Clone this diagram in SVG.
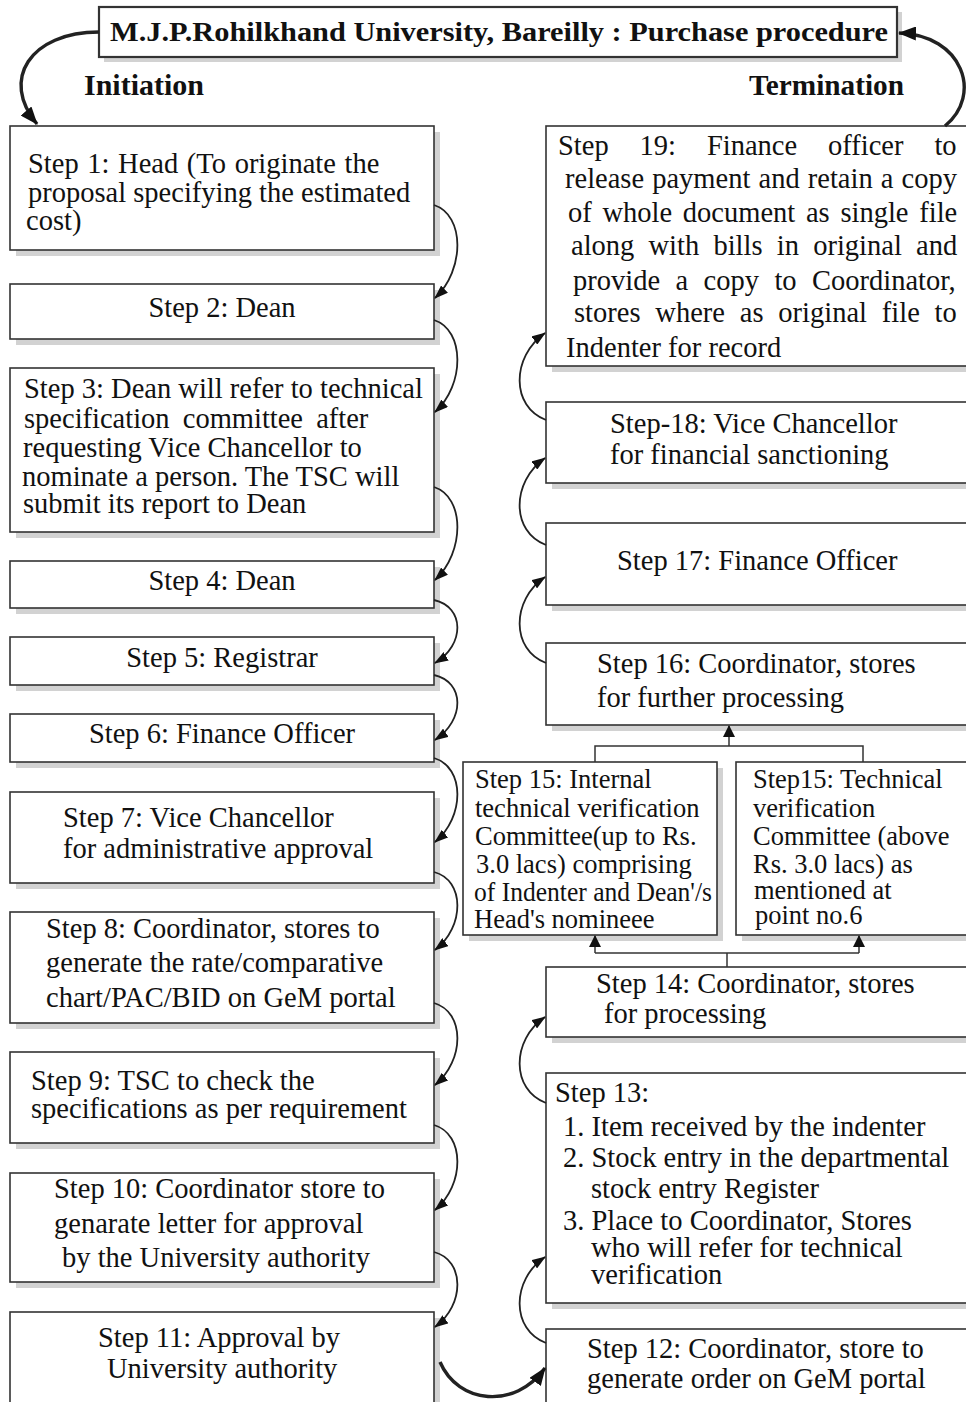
<svg xmlns="http://www.w3.org/2000/svg" width="966" height="1402" viewBox="0 0 966 1402">
<style>
.sh{fill:#d2d2d2}
.box{fill:#fff;stroke:#333;stroke-width:1.6}
.t{font-family:"Liberation Serif","Times New Roman",serif;font-size:28.5px;fill:#111}
.ts{font-size:26.5px}
.c{text-anchor:middle}
.b{font-weight:bold}
.con{fill:none;stroke:#222;stroke-width:1.8}
.thick{stroke-width:3.4}
.ln{fill:none;stroke:#333;stroke-width:1.5}
</style>
<defs>
<marker id="ah" viewBox="0 0 14 10" refX="13" refY="5" markerWidth="14" markerHeight="10" markerUnits="userSpaceOnUse" orient="auto"><path d="M0,0 L14,5 L0,10 z" fill="#111"/></marker>
<marker id="ahb" viewBox="0 0 18 14" refX="17" refY="7" markerWidth="18" markerHeight="14" markerUnits="userSpaceOnUse" orient="auto"><path d="M0,0 L18,7 L0,14 z" fill="#111"/></marker>
<marker id="ahs" viewBox="0 0 12 12" refX="11" refY="6" markerWidth="12" markerHeight="12" markerUnits="userSpaceOnUse" orient="auto"><path d="M0,0 L12,6 L0,12 z" fill="#111"/></marker>
</defs>
<rect width="966" height="1402" fill="#fff"/>

<g id="title">
<rect class="sh" x="104" y="12" width="798" height="50"/>
<rect class="box" x="99" y="7" width="798" height="50" style="stroke-width:2.2"/>
<text class="t b" x="110" y="41" style="font-size:28px" textLength="778" lengthAdjust="spacingAndGlyphs">M.J.P.Rohilkhand University, Bareilly : Purchase procedure</text>
</g>
<g id="initiation"><text class="t b" x="84" y="95" style="font-size:30px" textLength="120" lengthAdjust="spacingAndGlyphs">Initiation</text></g>
<g id="termination"><text class="t b" x="749" y="95" style="font-size:30px" textLength="155" lengthAdjust="spacingAndGlyphs">Termination</text></g>

<g id="step1">
<rect class="sh" x="16" y="132" width="424" height="124"/>
<rect class="box" x="10" y="126" width="424" height="124"/>
<text class="t" x="28" y="173" style="word-spacing:1.5px">Step 1: Head (To originate the</text>
<text class="t" x="28" y="202">proposal specifying the estimated</text>
<text class="t" x="26" y="230">cost)</text>
</g>
<g id="step2">
<rect class="sh" x="16" y="290" width="424" height="55"/>
<rect class="box" x="10" y="284" width="424" height="55"/>
<text class="t c" x="222" y="317">Step 2: Dean</text>
</g>
<g id="step3">
<rect class="sh" x="16" y="374" width="424" height="164"/>
<rect class="box" x="10" y="368" width="424" height="164"/>
<text class="t" x="24" y="398">Step 3: Dean will refer to technical</text>
<text class="t" x="24" y="428" style="word-spacing:6px">specification committee after</text>
<text class="t" x="23" y="457">requesting Vice Chancellor to</text>
<text class="t" x="22" y="486">nominate a person. The TSC will</text>
<text class="t" x="23" y="513">submit its report to Dean</text>
</g>
<g id="step4">
<rect class="sh" x="16" y="567" width="424" height="47"/>
<rect class="box" x="10" y="561" width="424" height="47"/>
<text class="t c" x="222" y="590">Step 4: Dean</text>
</g>
<g id="step5">
<rect class="sh" x="16" y="643" width="424" height="48"/>
<rect class="box" x="10" y="637" width="424" height="48"/>
<text class="t c" x="222" y="667">Step 5: Registrar</text>
</g>
<g id="step6">
<rect class="sh" x="16" y="720" width="424" height="48"/>
<rect class="box" x="10" y="714" width="424" height="48"/>
<text class="t c" x="222" y="743">Step 6: Finance Officer</text>
</g>
<g id="step7">
<rect class="sh" x="16" y="798" width="424" height="91"/>
<rect class="box" x="10" y="792" width="424" height="91"/>
<text class="t" x="63" y="827">Step 7: Vice Chancellor</text>
<text class="t" x="63" y="858">for administrative approval</text>
</g>
<g id="step8">
<rect class="sh" x="16" y="918" width="424" height="111"/>
<rect class="box" x="10" y="912" width="424" height="111"/>
<text class="t" x="46" y="938">Step 8: Coordinator, stores to</text>
<text class="t" x="46" y="972">generate the rate/comparative</text>
<text class="t" x="46" y="1007">chart/PAC/BID on GeM portal</text>
</g>
<g id="step9">
<rect class="sh" x="16" y="1058" width="424" height="91"/>
<rect class="box" x="10" y="1052" width="424" height="91"/>
<text class="t" x="31" y="1090">Step 9: TSC to check the</text>
<text class="t" x="31" y="1118">specifications as per requirement</text>
</g>
<g id="step10">
<rect class="sh" x="16" y="1179" width="424" height="109"/>
<rect class="box" x="10" y="1173" width="424" height="109"/>
<text class="t" x="54" y="1198">Step 10: Coordinator store to</text>
<text class="t" x="54" y="1233">genarate letter for approval</text>
<text class="t" x="62" y="1267">by the University authority</text>
</g>
<g id="step11">
<rect class="sh" x="16" y="1318" width="424" height="100"/>
<rect class="box" x="10" y="1312" width="424" height="100"/>
<text class="t" x="98" y="1347">Step 11: Approval by</text>
<text class="t" x="107" y="1378">University authority</text>
</g>

<g id="step19">
<rect class="sh" x="552" y="132" width="430" height="240"/>
<rect class="box" x="546" y="126" width="430" height="240"/>
<text class="t" x="558" y="155" style="word-spacing:23.8px">Step 19: Finance officer to</text>
<text class="t" x="565" y="188" style="word-spacing:1px">release payment and retain a copy</text>
<text class="t" x="568" y="222" style="word-spacing:3.6px">of whole document as single file</text>
<text class="t" x="571" y="255" style="word-spacing:7.1px">along with bills in original and</text>
<text class="t" x="573" y="290" style="word-spacing:8.3px">provide a copy to Coordinator,</text>
<text class="t" x="574" y="322" style="word-spacing:7.7px">stores where as original file to</text>
<text class="t" x="566" y="357">Indenter for record</text>
</g>
<g id="step18">
<rect class="sh" x="552" y="408" width="430" height="81"/>
<rect class="box" x="546" y="402" width="430" height="81"/>
<text class="t" x="610" y="433">Step-18: Vice Chancellor</text>
<text class="t" x="610" y="464">for financial sanctioning</text>
</g>
<g id="step17">
<rect class="sh" x="552" y="529" width="430" height="82"/>
<rect class="box" x="546" y="523" width="430" height="82"/>
<text class="t" x="617" y="570">Step 17: Finance Officer</text>
</g>
<g id="step16">
<rect class="sh" x="552" y="649" width="430" height="82"/>
<rect class="box" x="546" y="643" width="430" height="82"/>
<text class="t" x="597" y="673">Step 16: Coordinator, stores</text>
<text class="t" x="597" y="707">for further processing</text>
</g>
<g id="step15a">
<rect class="sh" x="469" y="768" width="254" height="173"/>
<rect class="box" x="463" y="762" width="254" height="173"/>
<text class="t ts" x="475" y="788">Step 15: Internal</text>
<text class="t ts" x="475" y="817">technical verification</text>
<text class="t ts" x="475" y="845">Committee(up to Rs.</text>
<text class="t ts" x="476" y="873">3.0 lacs) comprising</text>
<text class="t ts" x="474" y="901" textLength="238" lengthAdjust="spacingAndGlyphs">of Indenter and Dean'/s</text>
<text class="t ts" x="474" y="928">Head's nomineee</text>
</g>
<g id="step15b">
<rect class="sh" x="742" y="768" width="240" height="173"/>
<rect class="box" x="736" y="762" width="240" height="173"/>
<text class="t ts" x="753" y="788">Step15: Technical</text>
<text class="t ts" x="753" y="817">verification</text>
<text class="t ts" x="753" y="845">Committee (above</text>
<text class="t ts" x="753" y="873">Rs. 3.0 lacs) as</text>
<text class="t ts" x="754" y="899">mentioned at</text>
<text class="t ts" x="755" y="924">point no.6</text>
</g>
<g id="step14">
<rect class="sh" x="552" y="973" width="430" height="70"/>
<rect class="box" x="546" y="967" width="430" height="70"/>
<text class="t" x="596" y="993">Step 14: Coordinator, stores</text>
<text class="t" x="604" y="1023">for processing</text>
</g>
<g id="step13">
<rect class="sh" x="552" y="1079" width="430" height="230"/>
<rect class="box" x="546" y="1073" width="430" height="230"/>
<text class="t" x="555" y="1102">Step 13:</text>
<text class="t" x="563" y="1136">1. Item received by the indenter</text>
<text class="t" x="563" y="1167">2. Stock entry in the departmental</text>
<text class="t" x="591" y="1198">stock entry Register</text>
<text class="t" x="563" y="1230">3. Place to Coordinator, Stores</text>
<text class="t" x="591" y="1257">who will refer for technical</text>
<text class="t" x="591" y="1284">verification</text>
</g>
<g id="step12">
<rect class="sh" x="552" y="1335" width="430" height="90"/>
<rect class="box" x="546" y="1329" width="430" height="90"/>
<text class="t" x="587" y="1358">Step 12: Coordinator, store to</text>
<text class="t" x="587" y="1388">generate order on GeM portal</text>
</g>

<g id="connectors">
<path class="con thick" d="M99,32 C30,32 0,80 37,124" marker-end="url(#ahb)"/>
<path class="con thick" d="M945,126 C983,95 963,35 899,33" marker-end="url(#ahb)"/>
<path class="con" d="M434,205 C465,215 465,270 435,298" marker-end="url(#ah)"/>
<path class="con" d="M434,320 C465,330 465,385 435,412" marker-end="url(#ah)"/>
<path class="con" d="M434,487 C465,497 465,552 435,580" marker-end="url(#ah)"/>
<path class="con" d="M434,600 C465,607 465,645 435,663" marker-end="url(#ah)"/>
<path class="con" d="M434,675 C465,682 465,720 435,740" marker-end="url(#ah)"/>
<path class="con" d="M434,758 C465,767 465,817 435,842" marker-end="url(#ah)"/>
<path class="con" d="M434,872 C465,880 465,927 435,950" marker-end="url(#ah)"/>
<path class="con" d="M434,1003 C465,1012 465,1060 435,1085" marker-end="url(#ah)"/>
<path class="con" d="M434,1125 C465,1134 465,1185 435,1210" marker-end="url(#ah)"/>
<path class="con" d="M434,1252 C465,1260 465,1305 435,1327" marker-end="url(#ah)"/>
<path class="con thick" d="M440,1362 C458,1404 515,1410 545,1368" marker-end="url(#ahb)"/>
<path class="con" d="M546,1343 C511,1330 511,1280 545,1257" marker-end="url(#ah)"/>
<path class="con" d="M546,1103 C511,1090 511,1040 545,1017" marker-end="url(#ah)"/>
<path class="con" d="M546,663 C511,650 511,600 545,577" marker-end="url(#ah)"/>
<path class="con" d="M546,545 C511,532 511,482 545,458" marker-end="url(#ah)"/>
<path class="con" d="M546,420 C511,407 511,357 545,333" marker-end="url(#ah)"/>
<path class="ln" d="M595,762 L595,746 L863,746 L863,762"/>
<path class="ln" d="M729,746 L729,726" marker-end="url(#ahs)"/>
<path class="ln" d="M727,967 L727,953"/>
<path class="ln" d="M595,953 L859,953"/>
<path class="ln" d="M595,953 L595,936" marker-end="url(#ahs)"/>
<path class="ln" d="M859,953 L859,936" marker-end="url(#ahs)"/>
</g>
</svg>
